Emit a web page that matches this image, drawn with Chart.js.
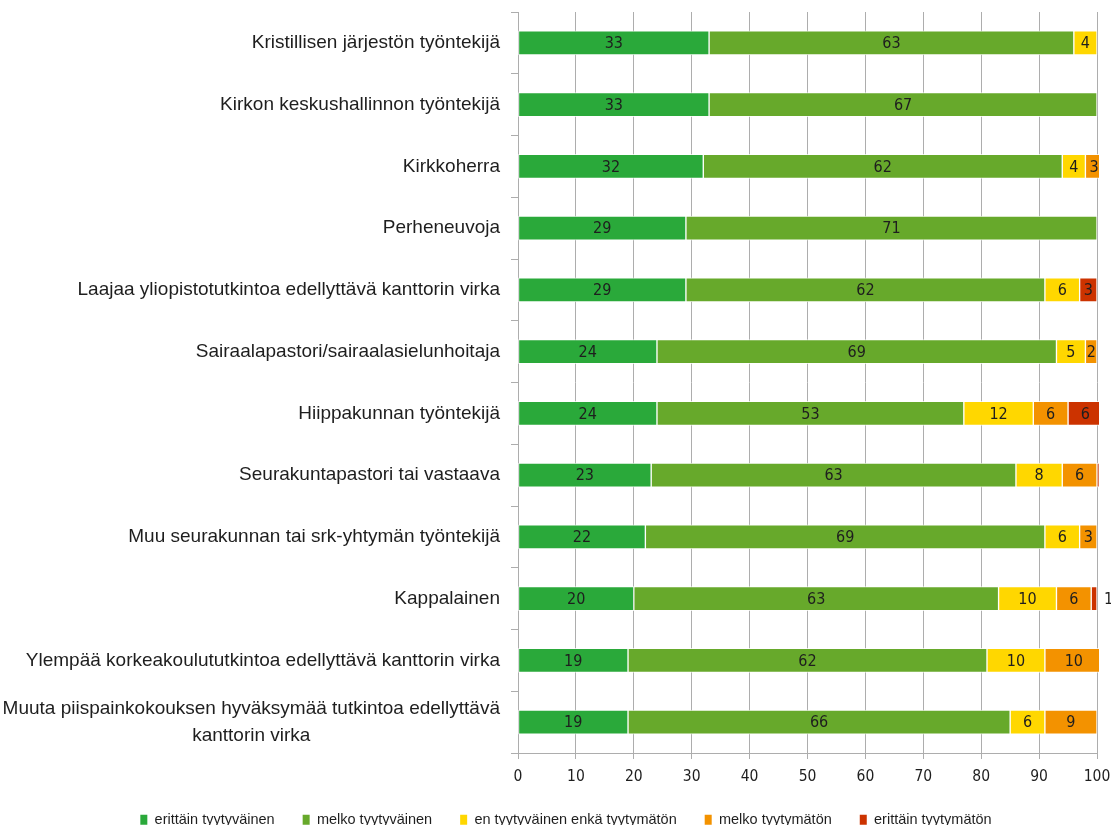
<!DOCTYPE html>
<html>
<head>
<meta charset="utf-8">
<script src="https://cdn.jsdelivr.net/npm/chart.js@4/dist/chart.umd.min.js"></script>
<style>
  html, body { margin: 0; padding: 0; background: #fff; overflow: hidden; }
  #wrap { width: 1111px; height: 825px; }
</style>
</head>
<body>
<div id="wrap"><canvas id="chart"></canvas></div>
<script>
// Categories, top to bottom as in the reference.
const CATEGORIES = [
  "Kristillisen järjestön työntekijä",
  "Kirkon keskushallinnon työntekijä",
  "Kirkkoherra",
  "Perheneuvoja",
  "Laajaa yliopistotutkintoa edellyttävä kanttorin virka",
  "Sairaalapastori/sairaalasielunhoitaja",
  "Hiippakunnan työntekijä",
  "Seurakuntapastori tai vastaava",
  "Muu seurakunnan tai srk-yhtymän työntekijä",
  "Kappalainen",
  "Ylempää korkeakoulututkintoa edellyttävä kanttorin virka",
  ["Muuta piispainkokouksen hyväksymää tutkintoa edellyttävä", "kanttorin virka"],
];

const SERIES_NAMES = [
  "erittäin tyytyväinen",
  "melko tyytyväinen",
  "en tyytyväinen enkä tyytymätön",
  "melko tyytymätön",
  "erittäin tyytymätön",
];

// Percentages per category (null = no segment).
const ERITTAIN_TYYTYVAINEN = [33, 33, 32, 29, 29, 24, 24, 23, 22, 20, 19, 19];
const MELKO_TYYTYVAINEN = [63, 67, 62, 71, 62, 69, 53, 63, 69, 63, 62, 66];
const NEUTRAALI = [4, null, 4, null, 6, 5, 12, 8, 6, 10, 10, 6];
const MELKO_TYYTYMATON = [null, null, 3, null, null, 2, 6, 6, 3, 6, 10, 9];
const ERITTAIN_TYYTYMATON = [null, null, null, null, 3, null, 6, 0.4, null, 1, null, null];

const X_TICKS = [0, 10, 20, 30, 40, 50, 60, 70, 80, 90, 100];

const COLORS = ["#2aa93a", "#67a92b", "#ffd700", "#f39200", "#cc3300"];
const TEXT = "#1e1e1e";
const GRID = "#adadad";
const LABEL_FONT = '19px "Liberation Sans", Arial, sans-serif';
const LABEL_LINE = 27;
const VALUE_FONT = '16px "Liberation Sans Narrow", "DejaVu Sans Condensed", sans-serif';

// Category labels: block right-aligned to the axis, lines centred in the block (Excel style).
const categoryLabels = {
  id: "categoryLabels",
  afterDraw(chart) {
    const { ctx } = chart;
    const y = chart.scales.y;
    ctx.save();
    ctx.font = LABEL_FONT;
    ctx.fillStyle = TEXT;
    ctx.textAlign = "center";
    ctx.textBaseline = "middle";
    chart.data.labels.forEach((label, i) => {
      const lines = [].concat(label);
      const w = Math.max(...lines.map((l) => ctx.measureText(l).width));
      const cx = y.right - 18 - w / 2;
      const cy = y.getPixelForTick(i) - ((lines.length - 1) * LABEL_LINE) / 2;
      lines.forEach((l, k) => ctx.fillText(l, cx, cy + k * LABEL_LINE));
    });
    ctx.restore();
  },
};

// Value labels in the middle of each segment; too narrow -> just right of it.
const valueLabels = {
  id: "valueLabels",
  afterDatasetsDraw(chart) {
    const { ctx } = chart;
    ctx.save();
    ctx.font = VALUE_FONT;
    ctx.fillStyle = TEXT;
    ctx.textBaseline = "middle";
    chart.data.datasets.forEach((ds, di) => {
      chart.getDatasetMeta(di).data.forEach((bar, i) => {
        const v = ds.data[i];
        if (v == null || Math.round(v) === 0) return;
        const text = String(Math.round(v));
        const segW = Math.abs(bar.x - bar.base);
        const tw = ctx.measureText(text).width;
        if (tw > segW) {
          ctx.textAlign = "left";
          ctx.fillText(text, Math.max(bar.x, bar.base) + 7, bar.y + 1);
        } else {
          ctx.textAlign = "center";
          ctx.fillText(text, (bar.x + bar.base) / 2, bar.y + 1);
        }
      });
    });
    ctx.restore();
  },
};

const seriesData = [
  ERITTAIN_TYYTYVAINEN,
  MELKO_TYYTYVAINEN,
  NEUTRAALI,
  MELKO_TYYTYMATON,
  ERITTAIN_TYYTYMATON,
];

new Chart(document.getElementById("chart"), {
  type: "bar",
  data: {
    labels: CATEGORIES,
    datasets: seriesData.map((data, i) => ({
      label: SERIES_NAMES[i],
      data,
      backgroundColor: COLORS[i],
      borderColor: "rgba(255,255,255,0.75)",
      borderWidth: 1,
      borderSkipped: false,
      barThickness: 24,
      clip: 2,
    })),
  },
  options: {
    indexAxis: "y",
    responsive: true,
    maintainAspectRatio: false,
    animation: false,
    layout: { padding: { top: 12, left: 35, right: 14, bottom: -12 } },
    plugins: {
      tooltip: { enabled: false },
      legend: {
        position: "bottom",
        labels: {
          font: { family: '"Liberation Sans", Arial, sans-serif', size: 14.5 },
          color: TEXT,
          boxWidth: 7,
          boxHeight: 10,
          padding: 28,
          generateLabels: (chart) =>
            Chart.defaults.plugins.legend.labels
              .generateLabels(chart)
              .map((l) => ({ ...l, strokeStyle: l.fillStyle, lineWidth: 0 })),
        },
      },
    },
    scales: {
      x: {
        stacked: true,
        min: 0,
        max: 100,
        afterBuildTicks: (s) => {
          s.ticks = X_TICKS.map((value) => ({ value }));
        },
        afterFit: (s) => {
          s.height = 837 - 753 - s.chart.legend.height;
          s.paddingLeft = 0;
          s.paddingRight = 0;
        },
        grid: { color: GRID, tickLength: 6, tickColor: GRID },
        border: { color: GRID },
        ticks: {
          color: TEXT,
          padding: 9,
          font: { family: '"Liberation Sans Narrow", "DejaVu Sans Condensed", sans-serif', size: 15.5 },
        },
      },
      y: {
        stacked: true,
        afterFit: (s) => {
          s.width = 518 - 35;
        },
        grid: { drawOnChartArea: false, tickLength: 7, color: GRID },
        border: { color: GRID },
        ticks: { display: false },
      },
    },
  },
  plugins: [categoryLabels, valueLabels],
});
</script>
</body>
</html>
